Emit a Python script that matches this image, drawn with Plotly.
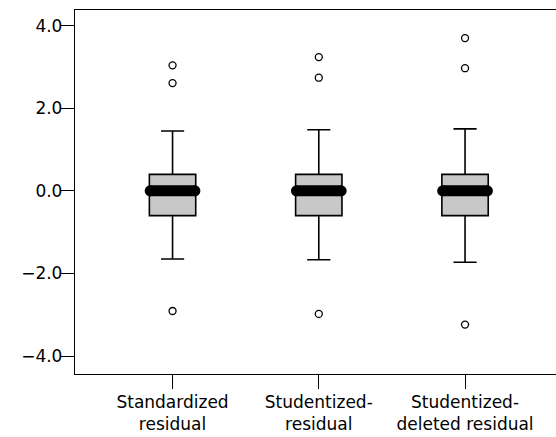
import plotly.graph_objects as go

categories = ["Standardized<br>residual", "Studentized-<br>residual", "Studentized-<br>deleted residual"]
q1 = [-0.60, -0.60, -0.60]
median = [0.0, 0.0, 0.0]
q3 = [0.40, 0.40, 0.40]
lower_whisker = [-1.65, -1.67, -1.73]
upper_whisker = [1.45, 1.48, 1.50]
outliers = [[3.04, 2.61, -2.91], [3.24, 2.74, -2.98], [3.70, 2.97, -3.24]]
y_ticks = [-4.0, -2.0, 0.0, 2.0, 4.0]

xpos = list(range(len(categories)))
font = dict(family="DejaVu Sans, sans-serif", size=17, color="black")

fig = go.Figure()
fig.add_trace(go.Box(
    x=xpos, q1=q1, median=median, q3=q3,
    lowerfence=lower_whisker, upperfence=upper_whisker,
    width=0.317, whiskerwidth=0.5,
    fillcolor="#c8c8c8", line=dict(color="black", width=1.6),
    boxpoints=False, hoverinfo="skip", showlegend=False,
))

half = 0.153
for i, m in zip(xpos, median):
    fig.add_trace(go.Scatter(
        x=[i - half, i + half], y=[m, m], mode="lines+markers",
        line=dict(color="black", width=11),
        marker=dict(color="black", size=11, symbol="circle"),
        showlegend=False, hoverinfo="skip",
    ))

ox, oy = [], []
for i, vals in zip(xpos, outliers):
    for v in vals:
        ox.append(i)
        oy.append(v)
fig.add_trace(go.Scatter(
    x=ox, y=oy, mode="markers",
    marker=dict(symbol="circle-open", size=7, color="black", line=dict(width=1.3)),
    showlegend=False, hoverinfo="skip",
))

fig.update_layout(
    width=556, height=437,
    margin=dict(l=75, r=0, t=10, b=63),
    plot_bgcolor="white", paper_bgcolor="white",
    font=font,
)
fig.update_xaxes(
    range=[-0.667, 2.622], tickmode="array", tickvals=xpos, ticktext=categories,
    showgrid=False, zeroline=False, showline=True, mirror=True,
    linecolor="black", linewidth=1.3,
    ticks="outside", ticklen=14, tickwidth=1.3, tickcolor="black",
    tickfont=font, ticklabelstandoff=-2,
)
fig.update_yaxes(
    range=[-4.436, 4.38], tickmode="array", tickvals=y_ticks,
    tickformat=".1f", showgrid=False, zeroline=False,
    showline=True, linecolor="black", linewidth=1.3,
    ticks="outside", ticklen=13, tickwidth=1.3, tickcolor="black",
    tickfont=font, ticklabelstandoff=-5,
)

fig.write_html("out.html")
